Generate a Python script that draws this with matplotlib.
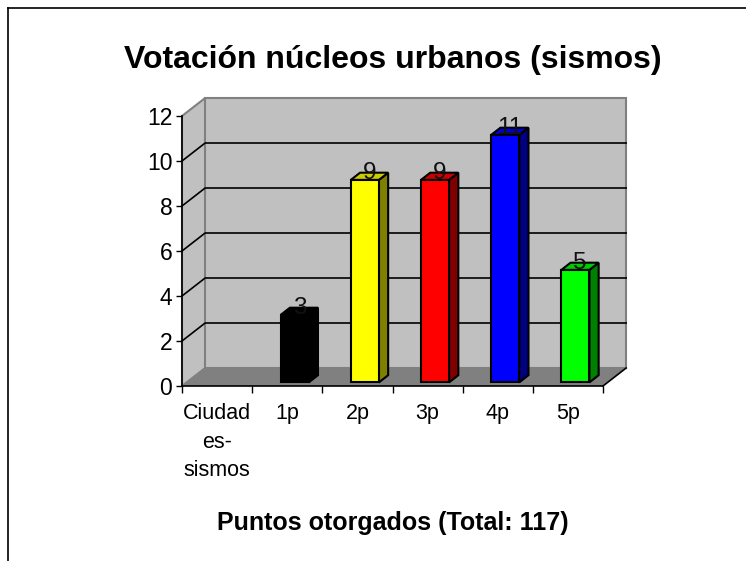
import matplotlib
matplotlib.use("Agg")
import matplotlib.pyplot as plt
from matplotlib.patches import Polygon, Rectangle
from matplotlib.lines import Line2D

plt.rcParams['font.family'] = ['Liberation Sans', 'DejaVu Sans']

# --- data ---
categories = ["Ciudad\nes-\nsismos", "1p", "2p", "3p", "4p", "5p"]
votes = [None, 3, 9, 9, 11, 5]   # first category has no bar
y_ticks = [0, 2, 4, 6, 8, 10, 12]
chart_title = "Votación núcleos urbanos (sismos)"
x_title = "Puntos otorgados (Total: 117)"

# --- colours (front / top / side of each bar) ---
front_colors = ["#000000", "#000000", "#FFFF00", "#FF0000", "#0000FF", "#00FF00"]
top_colors = ["#000000", "#000000", "#CCCC00", "#CC0000", "#0000CC", "#00CC00"]
side_colors = ["#000000", "#000000", "#808000", "#800000", "#000080", "#008000"]

W, H = 746, 561
fig = plt.figure(figsize=(W / 100, H / 100), dpi=100)
ax = fig.add_axes([182 / W, 175 / H, 421 / W, 270 / H])

n = len(categories)
ymax = y_ticks[-1]
ax.set_xlim(0, n)
ax.set_ylim(0, ymax)

# depth of the fake 3d box, in data units
dx, dy = 0.33, 0.8
# bars sit between these depth fractions
z0, z1 = 0.2, 0.6
bar_w = 0.4

wall = "#C0C0C0"
edge = "#808080"

# side wall, back wall, floor
ax.add_patch(Polygon([(0, 0), (dx, dy), (dx, ymax + dy), (0, ymax)],
                     fc=wall, ec=edge, lw=1.5, clip_on=False, zorder=0))
ax.add_patch(Rectangle((dx, dy), n, ymax, fc=wall, ec=edge, lw=1.5,
                       clip_on=False, zorder=0))
ax.add_patch(Polygon([(0, 0), (n, 0), (n + dx, dy), (dx, dy)],
                     fc=edge, ec="none", clip_on=False, zorder=1))

# grid lines on side + back wall
for t in y_ticks[1:-1]:
    ax.plot([0, dx, n + dx], [t, t + dy, t + dy], color="black", lw=1.2,
            clip_on=False, zorder=1)
ax.plot([n, n + dx], [0, dy], color="black", lw=1.2, clip_on=False, zorder=1)

# bars
ddx, ddy = (z1 - z0) * dx, (z1 - z0) * dy
for i, v in enumerate(votes):
    if v is None:
        continue
    x0 = i + 0.34 + z0 * dx
    y0 = z0 * dy
    ax.add_patch(Polygon([(x0 + bar_w, y0), (x0 + bar_w + ddx, y0 + ddy),
                          (x0 + bar_w + ddx, y0 + v + ddy), (x0 + bar_w, y0 + v)],
                         fc=side_colors[i], ec="black", lw=1.5, clip_on=False, zorder=3))
    ax.add_patch(Polygon([(x0, y0 + v), (x0 + bar_w, y0 + v),
                          (x0 + bar_w + ddx, y0 + v + ddy), (x0 + ddx, y0 + v + ddy)],
                         fc=top_colors[i], ec="black", lw=1.5, clip_on=False, zorder=3))
    ax.add_patch(Rectangle((x0, y0), bar_w, v, fc=front_colors[i], ec="black",
                           lw=1.5, clip_on=False, zorder=4))
    ax.text(x0 + bar_w / 2 + ddx / 2, y0 + v + 0.02, str(v), ha="center",
            va="baseline", fontsize=17.5, color="#111111", zorder=5)

# axes look
ax.set_facecolor("none")
for s in ["top", "right"]:
    ax.spines[s].set_visible(False)
for s in ["left", "bottom"]:
    ax.spines[s].set_color("black")
    ax.spines[s].set_linewidth(1.2)
    ax.spines[s].set_zorder(6)

ax.set_yticks(y_ticks)
ax.tick_params(axis="y", direction="out", length=4, width=1, pad=3, labelsize=16.5)
ax.set_xticks(range(n + 1))
ax.set_xticklabels([])
ax.set_xticks([i + 0.5 for i in range(n)], minor=True)
ax.set_xticklabels(categories, minor=True, fontsize=15.5, linespacing=1.45)
ax.tick_params(axis="x", which="major", direction="out", length=5, width=1)
ax.tick_params(axis="x", which="minor", length=0, pad=12.5)

fig.text(393 / W, 1 - 60 / H, chart_title, ha="center", va="center",
         fontsize=23, fontweight="bold")
fig.text(393 / W, 1 - 523 / H, x_title, ha="center", va="center",
         fontsize=18, fontweight="bold")

# outer frame (only top and left visible in the crop)
fig.add_artist(Line2D([8 / W, 1], [1 - 8 / H, 1 - 8 / H], transform=fig.transFigure,
                      color="black", lw=1.2))
fig.add_artist(Line2D([8 / W, 8 / W], [0, 1 - 8 / H], transform=fig.transFigure,
                      color="black", lw=1.2))

fig.savefig("out.png", dpi=100)
